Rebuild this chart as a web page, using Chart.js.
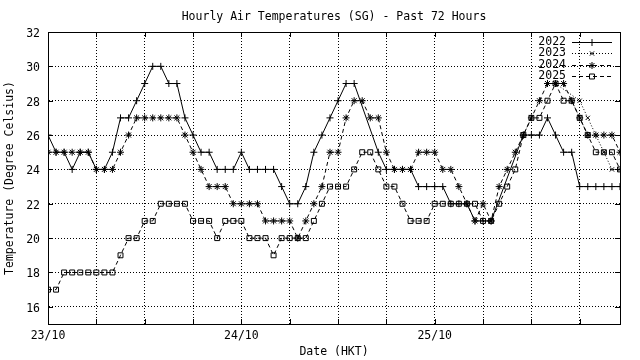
<!DOCTYPE html>
<html><head><meta charset="utf-8">
<script src="https://cdn.jsdelivr.net/npm/chart.js@4"></script>
<style>html,body{margin:0;padding:0;background:#fff;}</style>
</head><body>
<canvas id="c" width="640" height="360"></canvas>
<script>
const chartTitle = 'Hourly Air Temperatures (SG) - Past 72 Hours';
const xTitle = 'Date (HKT)';
const yTitle = 'Temperature (Degree Celsius)';
const seriesNames = ['2022', '2023', '2024', '2025'];
const dayLabels = ['23/10', '24/10', '25/10'];
const dayHours = [0, 24, 48];
const xTickHours = [0, 6, 12, 18, 24, 30, 36, 42, 48, 54, 60, 66];
const yTicks = [16, 18, 20, 22, 24, 26, 28, 30, 32];
const hours = Array.from({length: 72}, (_, i) => i);

const t2022 = [26,25,25,24,25,25,24,24,25,27, 27,28,29,30,30,29,29,27,26,25,
  25,24,24,24,25,24,24,24,24,23, 22,22,23,25,26,27,28,29,29,null,
  null,25,24,24,24,24,23,23,23,23, 22,22,22,21,21,21,null,null,null,26,
  26,26,27,26,25,25,23,23,23,23, 23,23];
const t2023 = [null,null,null,null,null,null,null,null,null,null, null,null,null,null,null,null,null,null,null,null,
  null,null,null,null,null,null,null,null,null,null, null,null,null,null,null,null,null,null,null,null,
  null,null,null,null,null,null,null,null,null,null, null,null,null,null,null,null,null,null,null,null,
  null,null,null,29,null,null,28,27,26,25, 24,24];
const t2024 = [25,25,25,25,25,25,24,24,24,25, 26,27,27,27,27,27,27,26,25,24,
  23,23,23,22,22,22,22,21,21,21, 21,20,21,22,23,25,25,27,28,28,
  27,27,25,24,24,24,25,25,25,24, 24,23,22,21,22,21,23,24,25,26,
  27,28,29,29,29,28,27,26,26,26, 26,25];
const t2025 = [17,17,18,18,18,18,18,18,18,19, 20,20,21,21,22,22,22,22,21,21,
  21,20,21,21,21,20,20,20,19,20, 20,20,20,21,22,23,23,23,24,25,
  25,24,23,23,22,21,21,21,22,22, 22,22,22,22,21,21,22,23,24,26,
  27,27,28,29,28,28,27,26,25,25, 25,24];

const FONT = '"DejaVu Sans Mono", "Liberation Mono", monospace';
const FSIZE = 11.5;

const styles = [
  {pointStyle: 'cross', dash: [], radius: 3.5},
  {pointStyle: 'crossRot', dash: [1, 2], radius: 3},
  {pointStyle: 'star', dash: [4, 3], radius: 3.5},
  {pointStyle: 'rect', dash: [4, 3], radius: 3.5}
];
const allSeries = [t2022, t2023, t2024, t2025];

const datasets = allSeries.map((vals, k) => ({
  label: seriesNames[k],
  data: vals.map((v, i) => ({x: hours[i], y: v})),
  borderColor: '#000',
  backgroundColor: 'rgba(0,0,0,0)',
  borderWidth: 1,
  borderDash: styles[k].dash,
  pointStyle: styles[k].pointStyle,
  pointRadius: styles[k].radius,
  pointBorderColor: '#000',
  pointBorderWidth: 1,
  pointBackgroundColor: 'rgba(0,0,0,0)',
  spanGaps: true,
  tension: 0
}));

const decor = {
  id: 'decor',
  afterDraw(chart) {
    const ctx = chart.ctx;
    const a = chart.chartArea;
    const xs = chart.scales.x, ys = chart.scales.y;
    ctx.save();
    ctx.strokeStyle = '#000';
    ctx.lineWidth = 1;
    ctx.setLineDash([]);
    ctx.strokeRect(Math.round(a.left) + 0.5, Math.round(a.top) + 0.5,
      Math.round(a.right - a.left), Math.round(a.bottom - a.top));
    const TL = 5;
    ctx.beginPath();
    xTickHours.forEach(h => {
      const px = Math.round(xs.getPixelForValue(h)) + 0.5;
      ctx.moveTo(px, a.bottom); ctx.lineTo(px, a.bottom - TL);
      ctx.moveTo(px, a.top); ctx.lineTo(px, a.top + TL);
    });
    yTicks.forEach(v => {
      const py = Math.round(ys.getPixelForValue(v)) + 0.5;
      ctx.moveTo(a.left, py); ctx.lineTo(a.left + TL, py);
      ctx.moveTo(a.right, py); ctx.lineTo(a.right - TL, py);
    });
    ctx.stroke();
    ctx.fillStyle = '#000';
    ctx.font = FSIZE + 'px ' + FONT;
    ctx.textAlign = 'center';
    ctx.textBaseline = 'middle';
    ctx.fillText(chartTitle, 334, 17);
    ctx.fillText(xTitle, 334, 352);
    ctx.save();
    ctx.translate(10, 178);
    ctx.rotate(-Math.PI / 2);
    ctx.fillText(yTitle, 0, 0);
    ctx.restore();
    const rowY = [42, 53.3, 64.6, 75.9];
    seriesNames.forEach((name, k) => {
      const y = Math.round(rowY[k]) + 0.5;
      ctx.fillStyle = '#000';
      ctx.textAlign = 'right';
      ctx.fillText(name, 566, rowY[k]);
      ctx.beginPath();
      ctx.setLineDash(styles[k].dash);
      ctx.moveTo(572, y);
      ctx.lineTo(612, y);
      ctx.stroke();
      ctx.setLineDash([]);
      ctx.fillStyle = 'rgba(0,0,0,0)';
      Chart.helpers.drawPoint(ctx, {pointStyle: styles[k].pointStyle, radius: styles[k].radius,
        rotation: 0, borderWidth: 1}, 592, y);
    });
    ctx.restore();
  }
};

new Chart(document.getElementById('c'), {
  type: 'line',
  data: {datasets},
  options: {
    responsive: false,
    animation: false,
    devicePixelRatio: 1,
    layout: {padding: {left: 0, top: 32, right: 20, bottom: 0}},
    plugins: {legend: {display: false}, title: {display: false}, tooltip: {enabled: false}},
    scales: {
      x: {
        type: 'linear', min: 0, max: 71,
        afterFit: s => { s.height = 36; },
        afterBuildTicks: s => { s.ticks = xTickHours.map(v => ({value: v})); },
        grid: {color: '#000', lineWidth: 1, drawTicks: false},
        border: {display: true, color: '#000', dash: [1, 2]},
        ticks: {
          autoSkip: false, maxRotation: 0, minRotation: 0, padding: 5, color: '#000',
          font: {family: FONT, size: FSIZE},
          callback: v => { const k = dayHours.indexOf(v); return k >= 0 ? dayLabels[k] : ''; }
        }
      },
      y: {
        type: 'linear', min: 15, max: 32,
        afterFit: s => { s.width = 48; },
        afterBuildTicks: s => { s.ticks = yTicks.map(v => ({value: v})); },
        grid: {color: '#000', lineWidth: 1, drawTicks: false},
        border: {display: true, color: '#000', dash: [1, 2]},
        ticks: {padding: 8, labelOffset: 2, color: '#000', font: {family: FONT, size: FSIZE}, callback: v => String(v)}
      }
    }
  },
  plugins: [decor]
});
</script>
</body></html>
